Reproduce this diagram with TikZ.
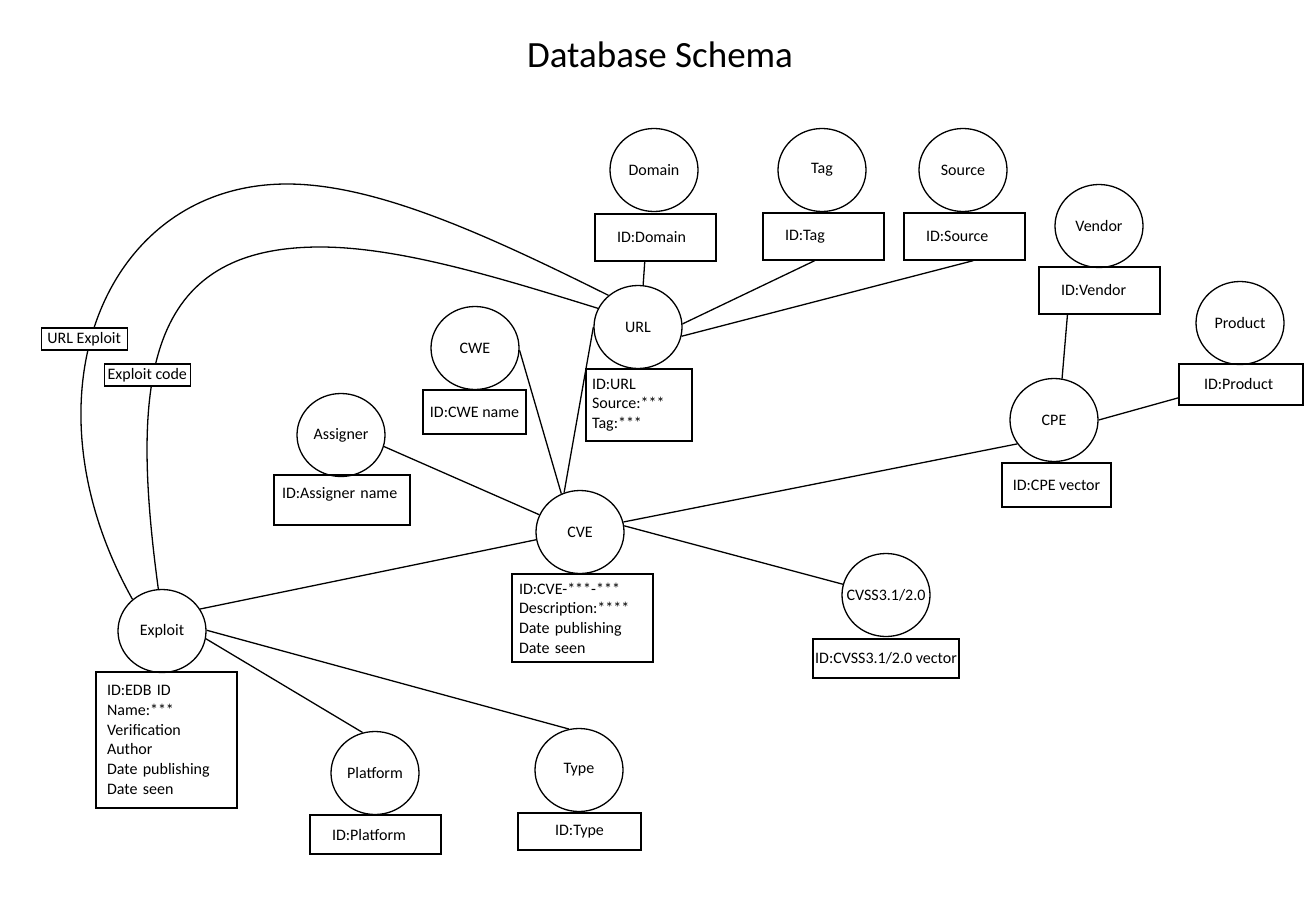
\documentclass[tikz,border=0pt]{standalone}
\usepackage{fontspec}
\setmainfont{Carlito}
\usepackage{tikz}
\usetikzlibrary{shapes.geometric, positioning}

\begin{document}
\begin{tikzpicture}[
    x=1bp, y=-1bp,
    line width=1.3bp,
    font=\fontsize{16bp}{19.7bp}\selectfont,
    % Styles
    entity/.style={ellipse, draw=black, minimum width=88bp, minimum height=83bp, inner sep=0pt},
    attrbox/.style={rectangle, draw=black, align=left, inner ysep=0pt},
    keybox/.style={rectangle, draw=black, align=center, inner sep=1bp},
    linklabel/.style={rectangle, draw=black, fill=white, inner xsep=3bp, inner ysep=1bp, minimum width=86bp, minimum height=22bp}
]

% Page
\fill[white] (0,0) rectangle (1316,900);
\useasboundingbox (0,0) rectangle (1316,900);

% Title
\node[font=\fontsize{37bp}{44bp}\selectfont, anchor=base] (title) at (660,67) {Database Schema};

% Entities
\node[entity] (domain) at (654,170) {Domain};
\node[entity] (tag) at (822,170) {Tag};
\node[entity] (source) at (963,170) {Source};
\node[entity] (url) at (638,327) {URL};
\node[entity] (cwe) at (475,348) {CWE};
\node[entity] (assigner) at (341,435) {Assigner};
\node[entity] (cve) at (580,532) {CVE};
\node[entity] (cvss) at (886,595) {\makebox[0pt]{CVSS3.1/2.0}};
\node[entity] (vendor) at (1099,226) {Vendor};
\node[entity] (product) at (1240,323) {Product};
\node[entity] (cpe) at (1054,420) {CPE};
\node[entity] (exploit) at (162,631) {Exploit};
\node[entity] (platform) at (375,773) {Platform};
\node[entity] (type) at (579,770) {Type};

% Attribute boxes
\node[attrbox, text width=77bp, inner xsep=22bp, minimum height=47bp] (domainbox) at (655.5,237.5) {ID:Domain};
\node[attrbox, text width=77bp, inner xsep=22bp, minimum height=47bp] (tagbox) at (823.5,236.5) {ID:Tag};
\node[attrbox, text width=77bp, inner xsep=22bp, minimum height=47bp] (sourcebox) at (964.5,236.5) {ID:Source};
\node[attrbox, text width=94bp, inner xsep=6bp, minimum height=72bp] (urlbox) at (639,405) {
    ID:URL\\
    Source:***\\
    Tag:***
};
\node[keybox, minimum width=103bp, minimum height=44bp] (cwebox) at (474.5,412) {ID:CWE name};
\node[attrbox, text width=120bp, inner xsep=8bp, minimum height=50bp, text depth=15bp] (assignerbox) at (342,500) {ID:Assigner name};
\node[attrbox, text width=127bp, inner xsep=7bp, minimum height=88bp] (cvebox) at (582.5,618) {
    ID:CVE-***-***\\
    Description:****\\
    Date publishing\\
    Date seen
};
\node[keybox, minimum width=146bp, minimum height=39bp] (cvssbox) at (886,658.5) {ID:CVSS3.1/2.0 vector};
\node[attrbox, text width=77bp, inner xsep=22bp, minimum height=47bp] (vendorbox) at (1099.5,290.5) {ID:Vendor};
\node[attrbox, text width=74bp, inner xsep=25bp, minimum height=41bp] (productbox) at (1241,384.5) {ID:Product};
\node[keybox, minimum width=109bp, minimum height=44bp] (cpebox) at (1056.5,485) {ID:CPE vector};
\node[attrbox, text width=119bp, inner xsep=11bp, minimum height=136bp] (exploitbox) at (166.5,740) {
    ID:EDB ID\\
    Name:***\\
    Verification\\
    Author\\
    Date publishing\\
    Date seen
};
\node[attrbox, text width=87bp, inner xsep=22bp, minimum height=39bp] (platformbox) at (375.5,834.5) {ID:Platform};
\node[keybox, minimum width=123bp, minimum height=37bp] (typebox) at (579.5,831.5) {ID:Type};

% Relations
\draw (domainbox.-114) -- (url.83);
\draw (tagbox.-110) -- (url.4);
\draw (sourcebox.-70) -- (url.-12);
\draw (url.west) -- (cve.112);
\draw (cwe.-3) -- (cve.116);
\draw (assigner.-15) -- (cve.157);
\draw (cve.-170) -- (exploit.30);
\draw (cve.13) -- (cpe.-147);
\draw (cve.8) -- (cvss.166);
\draw (cpe.79) -- (vendorbox.-143);
\draw (cpe.east) -- (productbox.-168);
\draw (exploit.-10) -- (platform.107);
\draw (exploit.1) -- (type.104);

% Exploit to URL curves
\draw (exploit.133) .. controls (18,395) and (105,184) .. (287,184) .. controls (377,184) and (489,236) .. (url.133);
\draw (exploit.95) .. controls (130,380) and (145,247) .. (320,247) .. controls (400,247) and (500,278) .. (url.155);
\node[linklabel] (urlexploit) at (84.2,339) {URL Exploit};
\node[linklabel] (exploitcode) at (147.3,375) {Exploit code};

\end{tikzpicture}
\end{document}
